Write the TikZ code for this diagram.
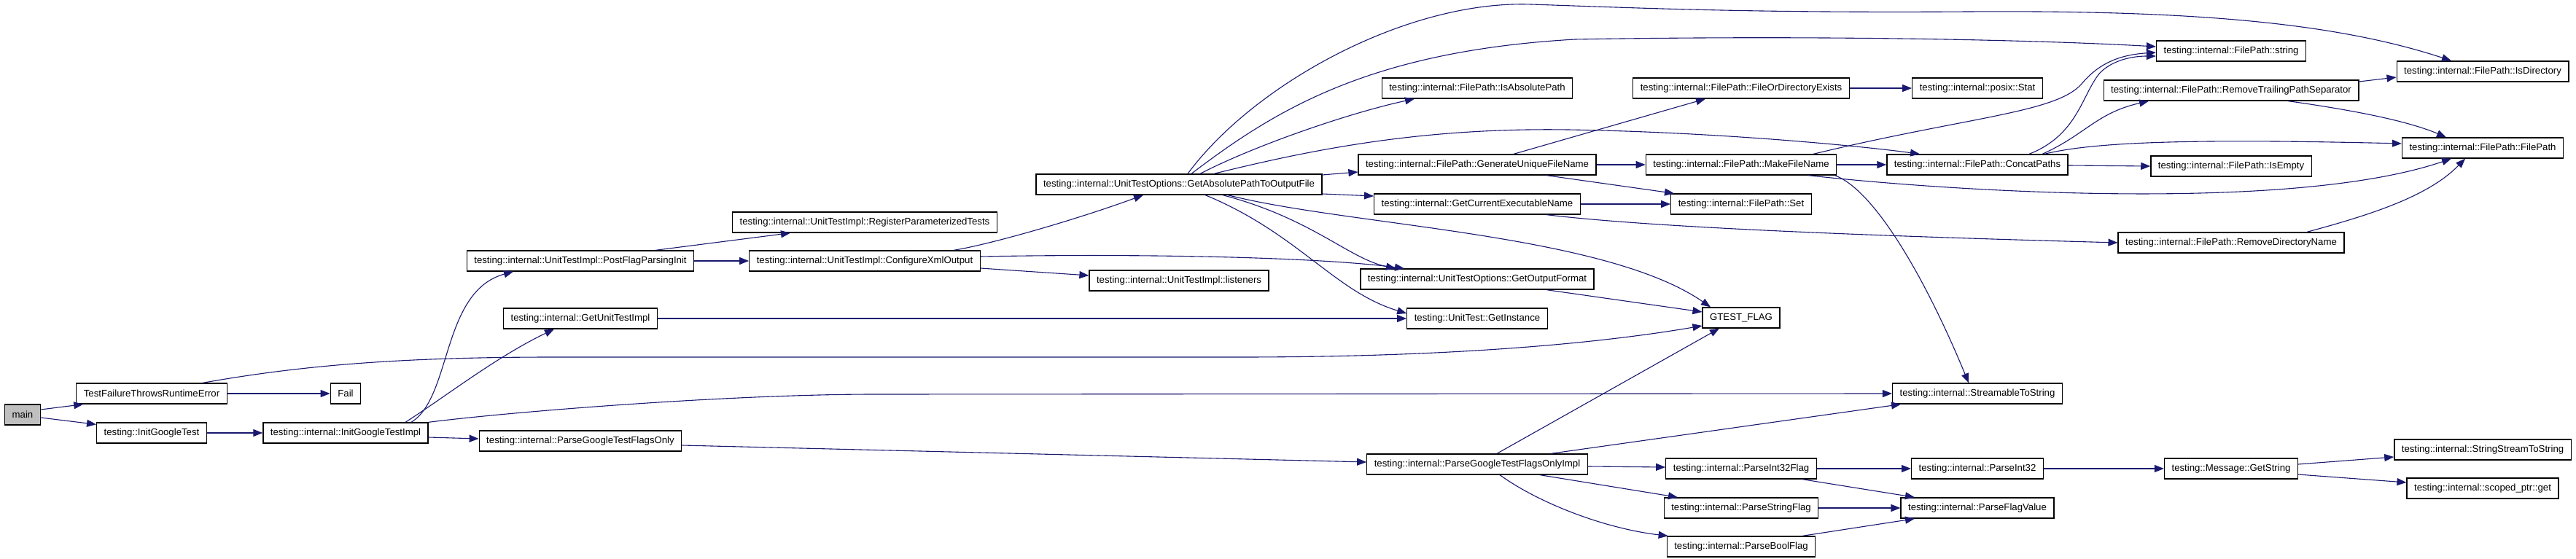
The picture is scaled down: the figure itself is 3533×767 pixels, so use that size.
\documentclass[tikz,border=0pt]{standalone}
\usepackage{fontspec}
\setmainfont{Liberation Sans}
\usetikzlibrary{arrows.meta}
\definecolor{edgeblue}{RGB}{25,25,112}
\definecolor{rootgray}{RGB}{191,191,191}

\begin{document}
\begin{tikzpicture}[
  x=1pt, y=-1pt,
  fn/.style={draw=black, line width=1.3pt, fill=#1, minimum height=28pt,
             inner xsep=10pt, inner ysep=0pt, font=\fontsize{13.2}{15}\selectfont},
  fn/.default=white,
  call/.style={-{Triangle[length=13pt,width=10pt]}, edgeblue, line width=1.1pt}
]
  \useasboundingbox (0,0) rectangle (3533,767);

  % Entry points
  \node[fn=rootgray] (main) at (31,569) {main};
  \node[fn] (tfre) at (208,540) {TestFailureThrowsRuntimeError};
  \node[fn] (initgt) at (208,594) {testing::InitGoogleTest};
  \node[fn] (fail) at (474,540) {Fail};
  \node[fn] (initimpl) at (474,594) {testing::internal::InitGoogleTestImpl};

  % Initialisation
  \node[fn] (postinit) at (796,358) {testing::internal::UnitTestImpl::PostFlagParsingInit};
  \node[fn] (getimpl) at (796,437) {testing::internal::GetUnitTestImpl};
  \node[fn] (parseonly) at (796,605) {testing::internal::ParseGoogleTestFlagsOnly};
  \node[fn] (regparam) at (1186,305) {testing::internal::UnitTestImpl::RegisterParameterizedTests};
  \node[fn] (cfgxml) at (1186,358) {testing::internal::UnitTestImpl::ConfigureXmlOutput};
  \node[fn] (abspath) at (1617,253) {testing::internal::UnitTestOptions::GetAbsolutePathToOutputFile};
  \node[fn] (listeners) at (1617,385) {testing::internal::UnitTestImpl::listeners};

  % Options and flags
  \node[fn] (isabs) at (2026,121) {testing::internal::FilePath::IsAbsolutePath};
  \node[fn] (genuniq) at (2026,226) {testing::internal::FilePath::GenerateUniqueFileName};
  \node[fn] (getexe) at (2026,280) {testing::internal::GetCurrentExecutableName};
  \node[fn] (outfmt) at (2026,383) {testing::internal::UnitTestOptions::GetOutputFormat};
  \node[fn] (getinst) at (2026,437) {testing::UnitTest::GetInstance};
  \node[fn] (parseimpl) at (2026,637) {testing::internal::ParseGoogleTestFlagsOnlyImpl};
  \node[fn] (direxists) at (2388,121) {testing::internal::FilePath::FileOrDirectoryExists};
  \node[fn] (makefn) at (2388,226) {testing::internal::FilePath::MakeFileName};
  \node[fn] (fpset) at (2388,280) {testing::internal::FilePath::Set};
  \node[fn] (gflag) at (2388,436) {GTEST\_FLAG};
  \node[fn] (pi32flag) at (2388,643) {testing::internal::ParseInt32Flag};
  \node[fn] (pstrflag) at (2388,697) {testing::internal::ParseStringFlag};
  \node[fn] (pboolflag) at (2388,750) {testing::internal::ParseBoolFlag};

  % Helpers
  \node[fn] (stat) at (2712,121) {testing::internal::posix::Stat};
  \node[fn] (concat) at (2712,226) {testing::internal::FilePath::ConcatPaths};
  \node[fn] (streamable) at (2712,540) {testing::internal::StreamableToString};
  \node[fn] (pi32) at (2712,643) {testing::internal::ParseInt32};
  \node[fn] (pflagval) at (2712,697) {testing::internal::ParseFlagValue};
  \node[fn] (fpstring) at (3060,70) {testing::internal::FilePath::string};
  \node[fn] (rtps) at (3060,124) {testing::internal::FilePath::RemoveTrailingPathSeparator};
  \node[fn] (isempty) at (3060,228) {testing::internal::FilePath::IsEmpty};
  \node[fn] (rmdir) at (3060,333) {testing::internal::FilePath::RemoveDirectoryName};
  \node[fn] (msgstr) at (3060,643) {testing::Message::GetString};
  \node[fn] (isdir) at (3405,98) {testing::internal::FilePath::IsDirectory};
  \node[fn] (fpctor) at (3405,203) {testing::internal::FilePath::FilePath};
  \node[fn] (ssts) at (3405,617) {testing::internal::StringStreamToString};
  \node[fn] (sptrget) at (3405,670) {testing::internal::scoped\_ptr::get};

  % Calls from main
  \draw[call] ([yshift=7]main.east) -- ([xshift=10]tfre.south west);
  \draw[call] ([yshift=-4]main.east) -- ([yshift=-3]initgt.north west);
  \draw[call] (tfre) -- (fail);
  \draw[call] ([xshift=70]tfre.north) .. controls (420,500) and (560,490) .. (760,490)
    -- (1700,490) .. controls (2000,490) and (2200,470) .. ([yshift=-11]gflag.west);
  \draw[call] (initgt) -- (initimpl);

  % Calls from InitGoogleTestImpl
  \draw[call] ([xshift=90]initimpl.north) .. controls (620,545) and (605,400) .. ([xshift=-92]postinit.south);
  \draw[call] ([xshift=82]initimpl.north) .. controls (610,545) and (680,490) .. ([xshift=-36]getimpl.south);
  \draw[call] (initimpl.north east) .. controls (700,565) and (1000,541) .. (1200,541) -- (streamable.west);
  \draw[call] ([yshift=-6]initimpl.east) -- ([yshift=3]parseonly.west);
  \draw[call] ([xshift=103]postinit.north) -- ([xshift=-102]regparam.south);
  \draw[call] (postinit) -- (cfgxml);
  \draw[call] (getimpl) -- (getinst);
  \draw[call] ([yshift=-6]parseonly.east) -- ([yshift=3]parseimpl.west);

  % Calls from ConfigureXmlOutput
  \draw[call] ([xshift=122]cfgxml.north) .. controls (1360,335) and (1480,300) .. ([xshift=-49]abspath.south);
  \draw[call] ([yshift=6]cfgxml.east) .. controls (1550,348) and (1800,352) .. ([xshift=-100]outfmt.north);
  \draw[call] ([yshift=-10]cfgxml.east) -- ([yshift=7]listeners.west);

  % Calls from GetAbsolutePathToOutputFile
  \draw[call] ([xshift=12]abspath.north) .. controls (1720,115) and (1930,0) .. (2100,6)
    .. controls (2250,11) and (2400,18) .. (2700,16)
    .. controls (3000,14) and (3200,30) .. ([xshift=-43]isdir.north);
  \draw[call] ([xshift=17]abspath.north) .. controls (1750,150) and (1880,70) .. (2160,54)
    .. controls (2500,48) and (2800,55) .. ([yshift=6]fpstring.west);
  \draw[call] ([xshift=29]abspath.north) .. controls (1720,200) and (1850,155) .. ([xshift=-86]isabs.south);
  \draw[call] ([xshift=48]abspath.north) .. controls (1800,205) and (1950,175) .. (2150,178)
    .. controls (2350,181) and (2550,200) .. ([xshift=-79]concat.north);
  \draw[call] ([yshift=13]abspath.east) -- ([yshift=-10]genuniq.west);
  \draw[call] ([yshift=-13]abspath.east) -- ([yshift=11]getexe.west);
  \draw[call] ([xshift=60]abspath.south) .. controls (1800,300) and (1850,355) .. ([xshift=-112]outfmt.north);
  \draw[call] ([xshift=36]abspath.south) .. controls (1780,320) and (1830,400) .. ([yshift=7]getinst.west);
  \draw[call] ([xshift=67]abspath.south) .. controls (1850,310) and (2200,320) .. ([xshift=-42]gflag.north);

  % File path helpers
  \draw[call] ([xshift=50]genuniq.north) -- ([xshift=-49]direxists.south);
  \draw[call] (genuniq) -- (makefn);
  \draw[call] ([xshift=95]genuniq.south) -- ([xshift=-92]fpset.north);
  \draw[call] (getexe) -- (fpset);
  \draw[call] ([xshift=95]getexe.south) .. controls (2250,310) and (2500,322) .. (rmdir.west);
  \draw[call] ([xshift=95]outfmt.south) -- ([yshift=8]gflag.west);
  \draw[call] (direxists) -- (stat);
  \draw[call] (makefn) -- (concat);
  \draw[call] ([xshift=99]makefn.north) .. controls (2700,160) and (2820,155) .. (2855,115)
    .. controls (2880,85) and (2910,75) .. ([yshift=-2]fpstring.west);
  \draw[call] ([xshift=-3]makefn.south east) .. controls (2570,260) and (2640,380) .. ([xshift=-12]streamable.north);
  \draw[call] ([xshift=92]makefn.south) .. controls (2700,265) and (3150,290) .. ([xshift=-43]fpctor.south);
  \draw[call] ([xshift=71]concat.north) .. controls (2850,185) and (2855,130) .. (2880,100)
    .. controls (2900,80) and (2930,77) .. ([yshift=-7]fpstring.west);
  \draw[call] ([xshift=89]concat.north) .. controls (2860,185) and (2875,155) .. ([xshift=-113]rtps.south);
  \draw[call] ([xshift=92]concat.north) .. controls (2870,195) and (3000,190) .. ([yshift=6]fpctor.west);
  \draw[call] ([yshift=-1]concat.east) -- (isempty.west);
  \draw[call] ([yshift=12]rtps.east) -- ([yshift=-8]isdir.west);
  \draw[call] ([xshift=78]rtps.south) .. controls (3220,150) and (3300,165) .. ([xshift=-50]fpctor.north);
  \draw[call] ([xshift=104]rmdir.north) .. controls (3250,295) and (3330,270) .. ([xshift=-24]fpctor.south);

  % Flag parsing
  \draw[call] ([xshift=27]parseimpl.north) -- ([xshift=-30]gflag.south);
  \draw[call] ([xshift=101]parseimpl.north) -- ([xshift=-105]streamable.south);
  \draw[call] ([yshift=-3]parseimpl.east) -- ([yshift=2]pi32flag.west);
  \draw[call] ([xshift=86]parseimpl.south) -- ([xshift=-87]pstrflag.north);
  \draw[call] ([xshift=31]parseimpl.south) .. controls (2110,690) and (2200,725) .. ([xshift=2]pboolflag.north west);
  \draw[call] (pi32flag) -- (pi32);
  \draw[call] ([xshift=84]pi32flag.south) -- ([xshift=-86]pflagval.north);
  \draw[call] (pstrflag) -- (pflagval);
  \draw[call] ([xshift=84]pboolflag.north) -- ([xshift=-86]pflagval.south);
  \draw[call] (pi32) -- (msgstr);
  \draw[call] ([yshift=6]msgstr.east) -- ([yshift=-10]ssts.west);
  \draw[call] ([yshift=-8]msgstr.east) -- ([yshift=8]sptrget.west);
\end{tikzpicture}
\end{document}
